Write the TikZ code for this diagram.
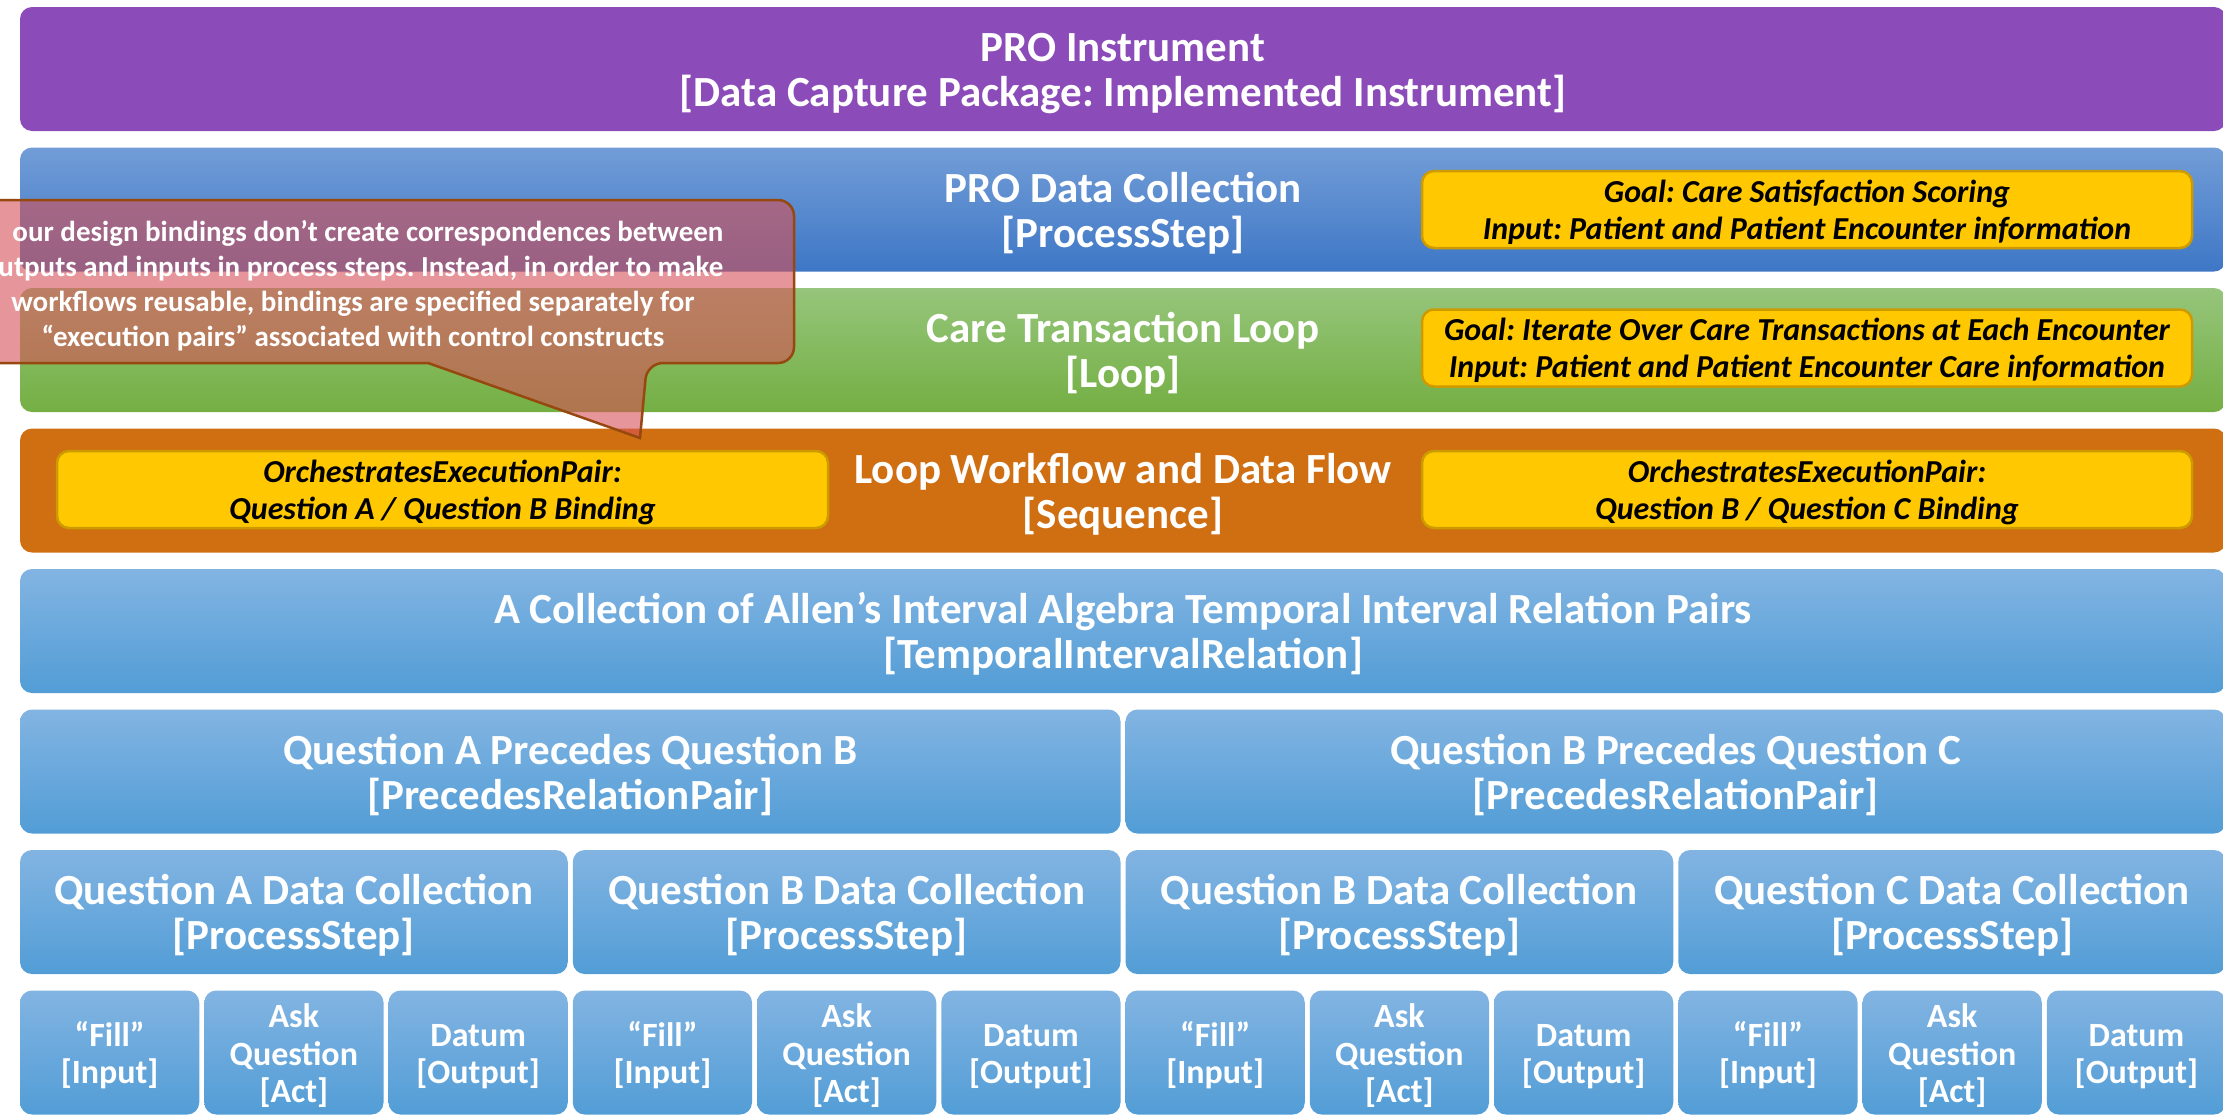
\documentclass[tikz,border=0pt]{standalone}
\usepackage{fontspec}
\setmainfont{Carlito}
\definecolor{purpleC}{RGB}{139,76,185}
\definecolor{blueTop}{RGB}{114,157,215}
\definecolor{blueBot}{RGB}{62,119,198}
\definecolor{greenTop}{RGB}{150,197,123}
\definecolor{greenBot}{RGB}{116,175,67}
\definecolor{orangeC}{RGB}{208,110,18}
\definecolor{lbTop}{RGB}{130,180,226}
\definecolor{lbBot}{RGB}{82,157,214}
\definecolor{goldF}{RGB}{255,200,0}
\definecolor{goldD}{RGB}{205,155,0}
\definecolor{noteC}{RGB}{214,80,86}
\definecolor{noteD}{RGB}{150,72,15}
\newcommand\fBig{\frenchspacing\bfseries\fontsize{43}{45}\selectfont}
\newcommand\fCell{\frenchspacing\bfseries\fontsize{34}{37.5}\selectfont}
\newcommand\fGoal{\frenchspacing\bfseries\itshape\fontsize{32}{37}\selectfont}
\newcommand\fNote{\frenchspacing\bfseries\fontsize{29}{35}\selectfont}
% top struts to match the vertical placement of text in the reference
\newcommand\sA{\rule{0pt}{37pt}}
\newcommand\sC{\rule{0pt}{30.5pt}}
\newcommand\sG{\rule{0pt}{28pt}}
\tikzset{
  bar/.style={rounded corners=12pt, anchor=north west, inner sep=0pt, outer sep=0pt,
    minimum height=124pt, text=white, font=\fBig, align=center},
  full/.style={bar, minimum width=2206pt},
  lblue/.style={bar, top color=lbTop, bottom color=lbBot},
  cell/.style={lblue, font=\fCell, minimum width=179.25pt},
  gold/.style={rounded corners=12pt, anchor=north west, inner sep=0pt, outer sep=0pt,
    fill=goldF, draw=goldD, line width=2.5pt, text=black, font=\fGoal, align=center,
    minimum width=770pt, minimum height=77pt},
  calloutS/.style={fill=noteC, fill opacity=0.6, draw=noteD, line width=2.5pt},
  notetext/.style={font=\fNote, text=white, align=center}
}
\begin{document}
\begin{tikzpicture}[x=1pt,y=-1pt]
\useasboundingbox (0,0) rectangle (2223,1114);
\clip (0,0) rectangle (2223,1114);
% rows
\node[full, fill=purpleC] (pro) at (20,7) {\sA PRO Instrument\\{[Data Capture Package: Implemented Instrument]}};
\node[full, top color=blueTop, bottom color=blueBot] (prodc) at (20,147.5) {\sA PRO Data Collection\\{[ProcessStep]}};
\node[full, top color=greenTop, bottom color=greenBot] (loop) at (20,288) {\sA Care Transaction Loop\\{[Loop]}};
\node[full, fill=orangeC] (seq) at (20,428.5) {\sA Loop Workflow and Data Flow\\{[Sequence]}};
\node[full, lblue] (allen) at (20,569) {\sA A Collection of Allen’s Interval Algebra Temporal Interval Relation Pairs\\{[TemporalIntervalRelation]}};
\node[lblue, minimum width=1100.5pt] (precAB) at (20,709.5) {\sA Question A Precedes Question B\\{[PrecedesRelationPair]}};
\node[lblue, minimum width=1100.5pt] (precBC) at (1125.5,709.5) {\sA Question B Precedes Question C\\{[PrecedesRelationPair]}};
\foreach \j/\q in {0/A,1/B,2/B,3/C}{
  \node[lblue, minimum width=547.75pt] (qdc\j) at ({20+552.75*\j},850) {\sA Question \q{} Data Collection\\{[ProcessStep]}};
  \node[cell] (fill\j) at ({20+552.75*\j},990.5) {\sC “Fill”\\{[Input]}};
  \node[cell] (ask\j) at ({20+552.75*\j+184.25},990.5) {\sC Ask\\Question\\{[Act]}};
  \node[cell] (datum\j) at ({20+552.75*\j+368.5},990.5) {\sC Datum\\{[Output]}};
}
% gold annotation boxes
\node[gold] (goal1) at (1422,171) {\sG Goal: Care Satisfaction Scoring\\Input: Patient and Patient Encounter information};
\node[gold] (goal2) at (1422,309.5) {\sG Goal: Iterate Over Care Transactions at Each Encounter\\Input: Patient and Patient Encounter Care information};
\node[gold, minimum width=771pt] (pairAB) at (57,451) {\sG OrchestratesExecutionPair:\\Question A / Question B Binding};
\node[gold] (pairBC) at (1422,451) {\sG OrchestratesExecutionPair:\\Question B / Question C Binding};
% callout
\draw[calloutS] (-90,282) [rounded corners=16pt] -- (-90,200) -- (794,200) -- (794,363) -- (647,363) [sharp corners] -- (640,438) -- (428,363) [rounded corners=16pt] -- (-90,363) -- cycle;
\node[notetext] (note) at (353,286) {\hphantom{In }our design bindings don’t create correspondences between\\\hphantom{o}utputs and inputs in process steps. Instead, in order to make\\workflows reusable, bindings are specified separately for\\“execution pairs” associated with control constructs};
\end{tikzpicture}
\end{document}
